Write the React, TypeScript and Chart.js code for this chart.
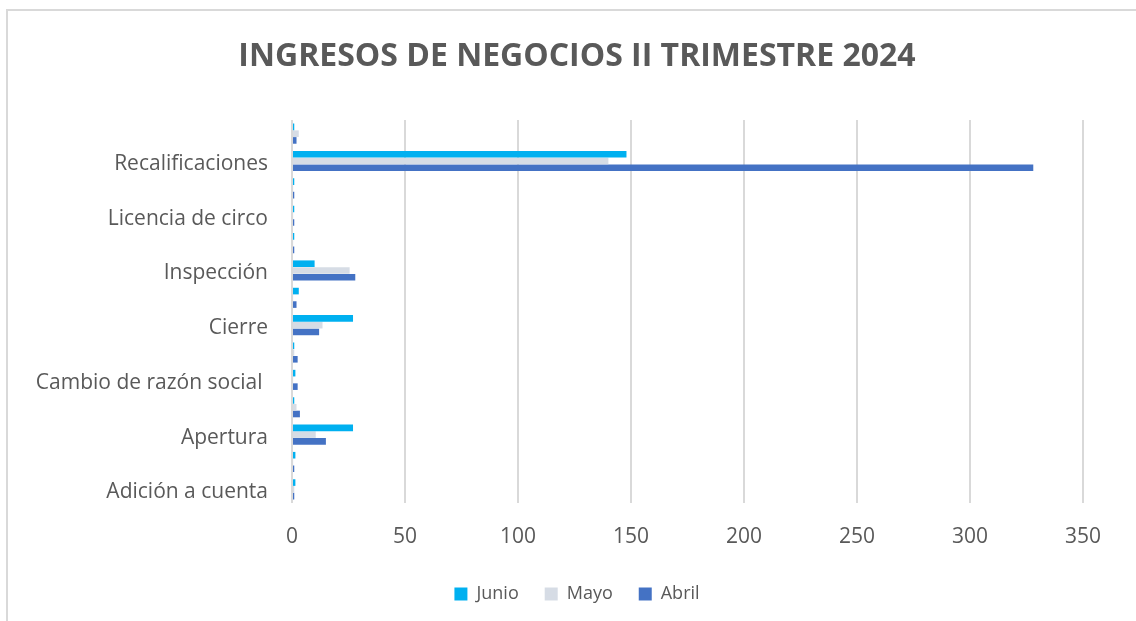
import React, { useEffect, useRef } from "react";
import { Chart, registerables } from "chart.js";

Chart.register(...registerables);

// Categories listed from top row to bottom row (as drawn)
const categories = [
  "Renovación",
  "Recalificaciones",
  "Permiso eventual",
  "Licencia de circo",
  "Licencia de alcohol",
  "Inspección",
  "Duplicado de licencia",
  "Cierre",
  "Cambio de titular",
  "Cambio de razón social ",
  "Cambio de domicilio",
  "Apertura",
  "Anuncio",
  "Adición a cuenta",
];

const junio = [1, 148, 1, 1, 1, 10, 3, 27, 1, 1.5, 1, 27, 1.5, 1.5];
const mayo = [3, 140, 0.5, 0.5, 0.5, 25.5, 0.5, 13.5, 1, 0.5, 2, 10.5, 0.5, 1];
const abril = [2, 328, 1, 1, 1, 28, 2, 12, 2.5, 2.5, 3.5, 15, 1, 1];

const xTicks = [0, 50, 100, 150, 200, 250, 300, 350];

const seriesNames = ["Junio", "Mayo", "Abril"];
const seriesColors = ["#00B0F0", "#D6DCE5", "#4472C4"];

const TITLE = "INGRESOS DE NEGOCIOS II TRIMESTRE 2024";

export default function App() {
  const canvasRef = useRef<HTMLCanvasElement | null>(null);

  useEffect(() => {
    if (!canvasRef.current) return;
    const seriesData = [junio, mayo, abril];
    const chart = new Chart(canvasRef.current, {
      type: "bar",
      data: {
        labels: categories,
        datasets: seriesNames.map((name, i) => ({
          label: name,
          data: seriesData[i],
          backgroundColor: seriesColors[i],
          borderColor: seriesColors[i],
          borderWidth: 0,
          categoryPercentage: 0.74,
          barPercentage: 0.98,
        })),
      },
      options: {
        indexAxis: "y",
        animation: false,
        responsive: false,
        maintainAspectRatio: false,
        layout: { padding: { left: 18, right: 0, top: 0, bottom: 8 } },
        plugins: {
          title: {
            display: true,
            text: TITLE,
            color: "#595959",
            font: { family: "'Open Sans', sans-serif", size: 32, weight: "bold" },
            padding: { top: 38, bottom: 43.6 },
          },
          legend: {
            position: "bottom",
            labels: {
              color: "#595959",
              font: { family: "'Open Sans', sans-serif", size: 18 },
              boxWidth: 13,
              boxHeight: 13,
              padding: 26,
            },
          },
          tooltip: { enabled: false },
        },
        scales: {
          x: {
            min: 0,
            max: 350,
            afterBuildTicks: (scale: any) => {
              scale.ticks = xTicks.map((v) => ({ value: v }));
            },
            afterFit: (scale: any) => {
              scale.height = 56;
            },
            grid: { color: "#D9D9D9", lineWidth: 2, drawTicks: false },
            border: { display: false },
            ticks: {
              color: "#595959",
              font: { family: "'Open Sans', sans-serif", size: 21 },
              padding: 21,
            },
          },
          y: {
            type: "category",
            afterFit: (scale: any) => {
              scale.width = 274;
            },
            grid: { display: false, drawTicks: false },
            border: { display: false },
            ticks: {
              autoSkip: false,
              color: "#595959",
              font: { family: "'Open Sans', sans-serif", size: 21 },
              padding: 24,
              labelOffset: 3,
              callback: (_v: any, i: number) => (i % 2 === 1 ? categories[i] : ""),
            },
          },
          yRight: {
            type: "linear",
            position: "right",
            display: true,
            afterFit: (scale: any) => {
              scale.width = 53;
            },
            grid: { display: false, drawTicks: false },
            border: { display: false },
            ticks: { display: false },
          },
        },
      },
    });
    return () => chart.destroy();
  }, []);

  return (
    <div style={{ position: "fixed", inset: 0, background: "#fff", overflow: "hidden" }}>
      <div
        style={{
          position: "absolute",
          left: 6,
          top: 9,
          right: -10,
          bottom: -10,
          borderLeft: "2px solid #D9D9D9",
          borderTop: "2px solid #D9D9D9",
        }}
      />
      <canvas ref={canvasRef} width={1136} height={621} style={{ position: "absolute", left: 0, top: 0 }} />
    </div>
  );
}
